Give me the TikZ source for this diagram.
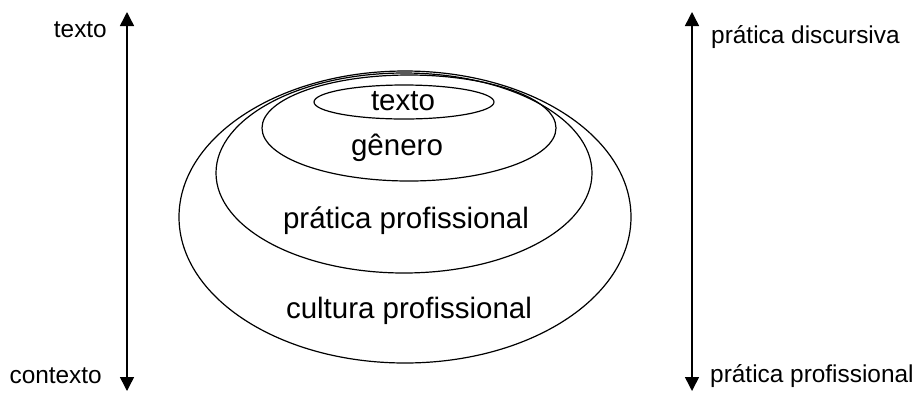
\documentclass[tikz,border=0pt]{standalone}
\usepackage{fontspec}
\setmainfont{Liberation Sans}
\usetikzlibrary{arrows.meta,shapes.geometric}
\begin{document}
\begin{tikzpicture}[x=1pt,y=-1pt,
  ring/.style={draw,ellipse,line width=1.2pt,inner sep=0pt,outer sep=0pt},
  inlabel/.style={font=\fontsize{29.5}{32}\selectfont,anchor=base,inner sep=0pt},
  outlabel/.style={font=\fontsize{24.4}{27}\selectfont,inner sep=0pt},
  axis/.style={line width=1.5pt,-{Triangle[width=14pt,length=14pt]}}]
\useasboundingbox (0,0) rectangle (920,392);
% ellipses
\node[ring,minimum width=452pt,minimum height=292pt] (cult) at (405,217) {};
\node[ring,minimum width=376pt,minimum height=200pt] (prat) at (404,173) {};
\node[ring,minimum width=294pt,minimum height=106pt] (gen) at (409,128) {};
\node[ring,minimum width=180pt,minimum height=34pt] (txt) at (404,102) {};
% inner labels
\node[inlabel] (ltxt) at (403,110) {texto};
\node[inlabel] (lgen) at (397,155) {gênero};
\node[inlabel] (lprat) at (406,228) {prática profissional};
\node[inlabel] (lcult) at (409,318) {cultura profissional};
% left axis
\coordinate (lt) at (127,12);
\coordinate (lb) at (127,391);
\coordinate (lm) at (127,200);
\draw[axis] (lm) -- (lt);
\draw[axis] (lm) -- (lb);
\node[outlabel,anchor=base east] (ltexto) at (107,37) {texto};
\node[outlabel,anchor=base east] (lcontexto) at (102,383) {contexto};
% right axis
\coordinate (rt) at (692,12);
\coordinate (rb) at (692,391);
\coordinate (rm) at (692,200);
\draw[axis] (rm) -- (rt);
\draw[axis] (rm) -- (rb);
\node[outlabel,anchor=base west] (rdisc) at (711,43) {prática discursiva};
\node[outlabel,anchor=base west] (rprof) at (710,382) {prática profissional};
\end{tikzpicture}
\end{document}
